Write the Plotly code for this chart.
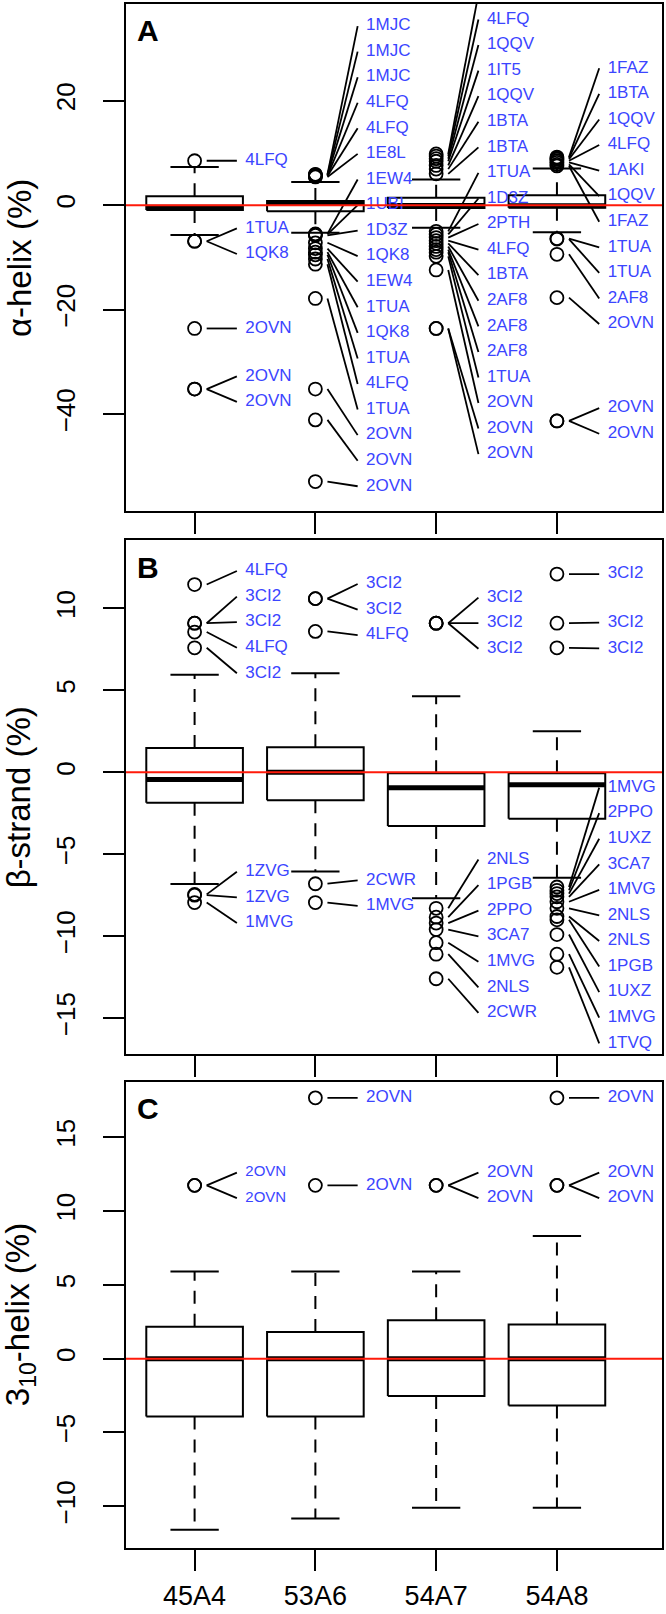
import plotly.graph_objects as go

groups = ["45A4", "53A6", "54A7", "54A8"]

# ---- panel A: alpha-helix ----
helix_q1 = [-0.95, -1.15, -0.55, -0.5]
helix_med = [-0.4, 0.35, -0.05, -0.1]
helix_q3 = [1.7, 0.8, 1.4, 1.9]
helix_lo = [-5.7, -5.3, -4.3, -5.2]
helix_hi = [7.3, 4.45, 4.9, 7.0]
helix_out = [
    [8.5, -6.9, -6.9, -23.6, -35.2, -35.2],
    [5.9, 5.8, 5.8, 5.6, 5.6, 5.4, -5.5, -5.6, -5.8, -7.2, -8.3, -9.0, -9.5,
     -10.3, -11.3, -17.85, -35.2, -41.1, -52.9],
    [9.8, 9.4, 8.9, 8.4, 7.6, 6.9, 6.0, -5.0, -5.6, -6.2, -6.8, -7.3, -7.9,
     -8.5, -9.0, -9.8, -12.4, -23.6, -23.6],
    [9.2, 9.0, 8.8, 8.5, 8.2, 7.8, 7.5, -6.4, -6.5, -9.4, -17.7, -41.3, -41.3],
]
helix_ids = [
    ["4LFQ", "1TUA", "1QK8", "2OVN", "2OVN", "2OVN"],
    ["1MJC", "1MJC", "1MJC", "4LFQ", "4LFQ", "1E8L", "1EW4", "1UBI", "1D3Z",
     "1QK8", "1EW4", "1TUA", "1QK8", "1TUA", "4LFQ", "1TUA", "2OVN", "2OVN", "2OVN"],
    ["1QQV", "4LFQ", "1QQV", "1IT5", "1QQV", "1BTA", "1BTA", "1TUA", "1D3Z",
     "2PTH", "4LFQ", "1BTA", "2AF8", "2AF8", "2AF8", "1TUA", "2OVN", "2OVN", "2OVN"],
    ["1FAZ", "1BTA", "1QQV", "4LFQ", "1AKI", "1QQV", "1FAZ", "1TUA", "1TUA",
     "2AF8", "2OVN", "2OVN", "2OVN"],
]

# ---- panel B: beta-strand ----
strand_q1 = [-1.86, -1.70, -3.28, -2.84]
strand_med = [-0.44, 0.0, -0.94, -0.76]
strand_q3 = [1.48, 1.53, -0.05, -0.05]
strand_lo = [-6.81, -6.05, -7.69, -6.44]
strand_hi = [5.96, 6.05, 4.65, 2.51]
strand_out = [
    [11.46, 9.1, 9.1, 8.56, 7.6, -7.45, -7.5, -7.95],
    [10.6, 10.6, 8.6, -6.8, -7.95],
    [9.1, 9.1, 9.1, -8.3, -8.84, -9.2, -9.6, -10.4, -11.1, -12.6],
    [12.1, 9.1, 7.6, -7.0, -7.2, -7.4, -7.6, -7.9, -8.3, -8.8, -9.0, -9.9,
     -11.1, -11.9],
]
strand_ids = [
    ["4LFQ", "3CI2", "3CI2", "4LFQ", "3CI2", "1ZVG", "1ZVG", "1MVG"],
    ["3CI2", "3CI2", "4LFQ", "2CWR", "1MVG"],
    ["3CI2", "3CI2", "3CI2", "2NLS", "1PGB", "2PPO", "3CA7", "1MVG", "2NLS", "2CWR"],
    ["3CI2", "3CI2", "3CI2", "1MVG", "2PPO", "1UXZ", "3CA7", "1MVG", "2NLS",
     "2NLS", "1PGB", "1UXZ", "1MVG", "1TVQ"],
]

# ---- panel C: 3-10 helix ----
h310_q1 = [-3.92, -3.92, -2.53, -3.18]
h310_med = [0.0, 0.0, 0.0, 0.0]
h310_q3 = [2.16, 1.81, 2.6, 2.31]
h310_lo = [-11.6, -10.84, -10.1, -10.1]
h310_hi = [5.9, 5.9, 5.9, 8.31]
h310_out = [[11.74, 11.74], [17.67, 11.74], [11.74, 11.74], [17.67, 11.74, 11.74]]
h310_ids = [["2OVN", "2OVN"], ["2OVN", "2OVN"], ["2OVN", "2OVN"],
            ["2OVN", "2OVN", "2OVN"]]

# page geometry (pixels)
W, H = 666, 1614
ML, MR, MT, MB = 126, 2, 2, 66
PW = W - ML - MR
PH = H - MT - MB
FONT = "Liberation Sans, Arial, sans-serif"
BLUE = "#3b45ff"


def py(ypix):
    return (H - MB - ypix) / PH


def pxp(xpix):
    return (xpix - ML) / PW


panels = [
    dict(q1=helix_q1, med=helix_med, q3=helix_q3, lo=helix_lo, hi=helix_hi,
         out=helix_out, ids=helix_ids, top=2, bottom=510, yr=[-58.6, 38.5],
         dtick=20, title="\u03b1-helix (%)", letter="A"),
    dict(q1=strand_q1, med=strand_med, q3=strand_q3, lo=strand_lo, hi=strand_hi,
         out=strand_out, ids=strand_ids, top=539, bottom=1053, yr=[-17.17, 14.16],
         dtick=5, title="\u03b2-strand (%)", letter="B"),
    dict(q1=h310_q1, med=h310_med, q3=h310_q3, lo=h310_lo, hi=h310_hi,
         out=h310_out, ids=h310_ids, top=1081, bottom=1548, yr=[-12.83, 18.77],
         dtick=5, title="3<sub>10</sub>-helix (%)", letter="C"),
]

XR = [0.432, 4.87]
BOXW = 0.4
CAPW = 0.2
GAP_PX = 25.6


def spread(vals, gap):
    # place labels in clusters evenly spaced around the mean of their values
    clusters = [[v] for v in vals]  # vals sorted descending
    changed = True
    while changed:
        changed = False
        merged = []
        for c in clusters:
            if merged:
                prev = merged[-1]
                pm = sum(prev) / len(prev)
                cm = sum(c) / len(c)
                prev_low = pm - (len(prev) - 1) / 2 * gap
                c_high = cm + (len(c) - 1) / 2 * gap
                if prev_low - c_high < gap:
                    merged[-1] = prev + c
                    changed = True
                    continue
            merged.append(c)
        clusters = merged
    pos = []
    for c in clusters:
        m = sum(c) / len(c)
        n = len(c)
        pos += [m + ((n - 1) / 2 - k) * gap for k in range(n)]
    return pos


fig = go.Figure()
layout = dict(width=W, height=H, plot_bgcolor="white", paper_bgcolor="white",
              margin=dict(l=ML, r=MR, t=MT, b=MB), showlegend=False,
              hovermode=False, font=dict(family=FONT, color="black"))
shapes = []
annotations = []

for p, pan in enumerate(panels):
    sfx = "" if p == 0 else str(p + 1)
    xa, ya = "x" + sfx, "y" + sfx
    ppu = (pan["bottom"] - pan["top"]) / (pan["yr"][1] - pan["yr"][0])
    gap = GAP_PX / ppu

    bx, by, mx, my, wx, wy, cx, cy = [], [], [], [], [], [], [], []
    ox, oy, lx, ly, tx, ty, tt = [], [], [], [], [], [], []
    for i, g in enumerate(groups):
        c = i + 1
        q1, md, q3 = pan["q1"][i], pan["med"][i], pan["q3"][i]
        lo, hi = pan["lo"][i], pan["hi"][i]
        bx += [c - BOXW, c + BOXW, c + BOXW, c - BOXW, c - BOXW, None]
        by += [q1, q1, q3, q3, q1, None]
        mx += [c - BOXW, c + BOXW, None]
        my += [md, md, None]
        wx += [c, c, None, c, c, None]
        wy += [q3, hi, None, q1, lo, None]
        cx += [c - CAPW, c + CAPW, None, c - CAPW, c + CAPW, None]
        cy += [hi, hi, None, lo, lo, None]
        vals = pan["out"][i]
        labs = spread(vals, gap)
        for v, lv, name in zip(vals, labs, pan["ids"][i]):
            ox.append(c)
            oy.append(v)
            lx += [c + 0.1, c + 0.35, None]
            ly += [v, lv, None]
            tx.append(c + 0.42)
            ty.append(lv)
            tt.append(name)

    fig.add_trace(go.Scatter(x=wx, y=wy, mode="lines", xaxis=xa, yaxis=ya,
                             line=dict(color="black", width=2, dash="13px,10px")))
    fig.add_trace(go.Scatter(x=cx, y=cy, mode="lines", xaxis=xa, yaxis=ya,
                             line=dict(color="black", width=2)))
    fig.add_trace(go.Scatter(x=bx, y=by, mode="lines", xaxis=xa, yaxis=ya,
                             line=dict(color="black", width=2)))
    fig.add_trace(go.Scatter(x=mx, y=my, mode="lines", xaxis=xa, yaxis=ya,
                             line=dict(color="black", width=5)))
    fig.add_trace(go.Scatter(x=lx, y=ly, mode="lines", xaxis=xa, yaxis=ya,
                             line=dict(color="black", width=1.8)))
    fig.add_trace(go.Scatter(x=ox, y=oy, mode="markers", xaxis=xa, yaxis=ya,
                             marker=dict(symbol="circle-open", size=13,
                                         color="black", line=dict(width=1.8))))
    fsize = [15 if (p == 2 and k < 2) else 17 for k in range(len(tt))]
    fig.add_trace(go.Scatter(x=tx, y=ty, text=tt, mode="text", xaxis=xa, yaxis=ya,
                             textposition="middle right", cliponaxis=True,
                             textfont=dict(color=BLUE, size=fsize, family=FONT)))

    dom = [py(pan["bottom"]), py(pan["top"])]
    layout["xaxis" + sfx] = dict(
        domain=[0, 1], anchor=ya, range=XR, tickmode="array",
        tickvals=[1, 2, 3, 4], ticktext=groups, ticks="outside", ticklen=21,
        tickwidth=2, tickcolor="black", showticklabels=(p == 2),
        tickfont=dict(size=27, family=FONT), ticklabelstandoff=2,
        showline=True, mirror=True, linecolor="black", linewidth=2,
        showgrid=False, zeroline=False)
    layout["yaxis" + sfx] = dict(
        domain=dom, anchor=xa, range=pan["yr"], dtick=pan["dtick"], tick0=0,
        ticks="outside", ticklen=21, tickwidth=2, tickcolor="black",
        tickangle=-90, tickfont=dict(size=26, family=FONT), ticklabelstandoff=18,
        showline=True, mirror=True, linecolor="black", linewidth=2,
        showgrid=False, zeroline=False)

    # reference line at zero
    shapes.append(dict(type="line", xref=xa + " domain", yref=ya, x0=0, x1=1,
                       y0=0, y1=0, line=dict(color="#ff1a0a", width=2),
                       layer="above"))

    annotations.append(dict(text=pan["title"], xref="paper", yref="paper",
                            x=pxp(19), y=(dom[0] + dom[1]) / 2, textangle=-90,
                            showarrow=False, xanchor="center", yanchor="middle",
                            font=dict(size=33, family=FONT)))
    annotations.append(dict(text="<b>" + pan["letter"] + "</b>", xref="paper",
                            yref="paper", x=pxp(148), y=py(pan["top"] + 27),
                            showarrow=False, xanchor="center", yanchor="middle",
                            font=dict(size=30, family=FONT)))

layout["shapes"] = shapes
layout["annotations"] = annotations
fig.update_layout(**layout)
# drop the default body margin so the figure sits at the page origin
fig.write_html("out.html", config={"displayModeBar": False},
               post_script="document.body.style.margin='0px';")
